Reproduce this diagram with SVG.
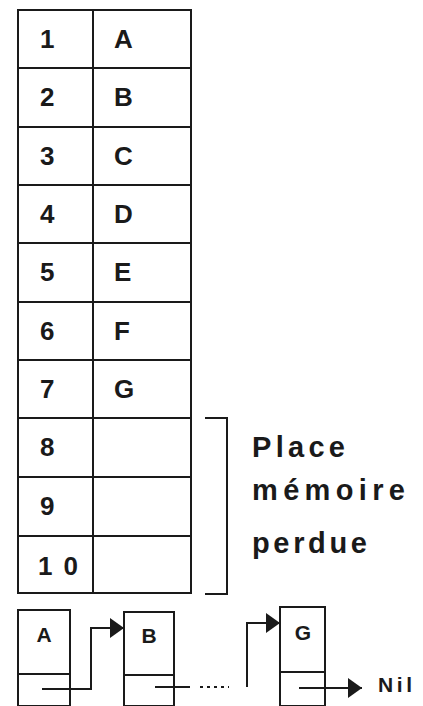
<svg xmlns="http://www.w3.org/2000/svg" width="423" height="706" viewBox="0 0 423 706">
<style>
.box{fill:none;stroke:#1a1a1a;stroke-width:2}
.ln{fill:none;stroke:#1a1a1a;stroke-width:2}
.t{font-family:"Liberation Sans",Arial,sans-serif;font-size:26px;fill:#1a1a1a;font-weight:bold}
.s{font-family:"Liberation Sans",Arial,sans-serif;font-size:21px;fill:#1a1a1a;font-weight:bold}
.lab{font-family:"Liberation Sans",Arial,sans-serif;font-size:29px;fill:#1a1a1a;font-weight:bold}
</style>
<defs>
<marker id="ah" viewBox="0 0 14 20" refX="14" refY="10" markerWidth="14" markerHeight="20" markerUnits="userSpaceOnUse" orient="auto">
<path d="M0,0 L14,10 L0,20 Z" fill="#1a1a1a"/>
</marker>
</defs>
<rect width="423" height="706" fill="#ffffff"/>
<g id="table">
<g id="row1"><rect class="box" x="18" y="10" width="75" height="58"/><rect class="box" x="93" y="10" width="98" height="58"/><text class="t" x="40" y="48">1</text><text class="t" x="114" y="48">A</text></g>
<g id="row2"><rect class="box" x="18" y="68" width="75" height="59"/><rect class="box" x="93" y="68" width="98" height="59"/><text class="t" x="40" y="106">2</text><text class="t" x="114" y="106">B</text></g>
<g id="row3"><rect class="box" x="18" y="127" width="75" height="58"/><rect class="box" x="93" y="127" width="98" height="58"/><text class="t" x="40" y="165">3</text><text class="t" x="114" y="165">C</text></g>
<g id="row4"><rect class="box" x="18" y="185" width="75" height="58"/><rect class="box" x="93" y="185" width="98" height="58"/><text class="t" x="40" y="223">4</text><text class="t" x="114" y="223">D</text></g>
<g id="row5"><rect class="box" x="18" y="243" width="75" height="59"/><rect class="box" x="93" y="243" width="98" height="59"/><text class="t" x="40" y="281">5</text><text class="t" x="114" y="281">E</text></g>
<g id="row6"><rect class="box" x="18" y="302" width="75" height="58"/><rect class="box" x="93" y="302" width="98" height="58"/><text class="t" x="40" y="340">6</text><text class="t" x="114" y="340">F</text></g>
<g id="row7"><rect class="box" x="18" y="360" width="75" height="58"/><rect class="box" x="93" y="360" width="98" height="58"/><text class="t" x="40" y="398">7</text><text class="t" x="114" y="398">G</text></g>
<g id="row8"><rect class="box" x="18" y="418" width="75" height="59"/><rect class="box" x="93" y="418" width="98" height="59"/><text class="t" x="40" y="456">8</text></g>
<g id="row9"><rect class="box" x="18" y="477" width="75" height="59"/><rect class="box" x="93" y="477" width="98" height="59"/><text class="t" x="40" y="515">9</text></g>
<g id="row10"><rect class="box" x="18" y="536" width="75" height="57"/><rect class="box" x="93" y="536" width="98" height="57"/><text class="t" x="38" y="575" textLength="40" lengthAdjust="spacing">10</text></g>
</g>
<g id="bracket">
<path class="ln" d="M205,418 H227 V594 H205"/>
<text class="lab" x="252" y="457" textLength="93" lengthAdjust="spacing">Place</text>
<text class="lab" x="252" y="500" textLength="153" lengthAdjust="spacing">mémoire</text>
<text class="lab" x="252" y="553" textLength="115" lengthAdjust="spacing">perdue</text>
</g>
<g id="nodeA"><rect class="box" x="18" y="610" width="52" height="96"/><line class="ln" x1="18" y1="674" x2="70" y2="674"/><text class="s" x="44" y="642" text-anchor="middle">A</text></g>
<g id="nodeB"><rect class="box" x="124" y="612" width="50" height="94"/><line class="ln" x1="124" y1="675" x2="174" y2="675"/><text class="s" x="149" y="643" text-anchor="middle">B</text></g>
<g id="nodeG"><rect class="box" x="280" y="607" width="45" height="99"/><line class="ln" x1="280" y1="672" x2="325" y2="672"/><text class="s" x="303" y="640" text-anchor="middle">G</text></g>
<g id="connectors">
<path class="ln" d="M42,689 H91 V628 H124" marker-end="url(#ah)"/>
<line class="ln" x1="155" y1="687" x2="190" y2="687"/>
<line class="ln" x1="200" y1="687" x2="229" y2="687" stroke-dasharray="3,4"/>
<path class="ln" d="M247,687 V623 H280" marker-end="url(#ah)"/>
<line class="ln" x1="299" y1="688" x2="362" y2="688" marker-end="url(#ah)"/>
</g>
<text class="s" x="378" y="692" textLength="34" lengthAdjust="spacing">Nil</text>
</svg>
